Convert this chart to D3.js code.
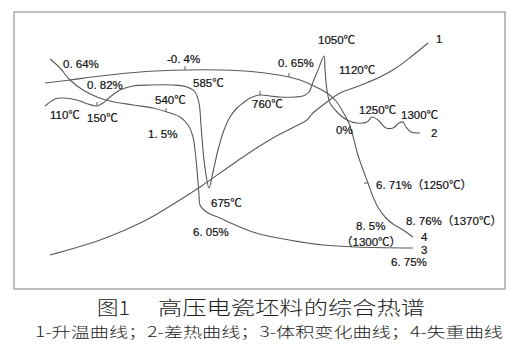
<!DOCTYPE html>
<html><head><meta charset="utf-8">
<script src="https://cdn.jsdelivr.net/npm/d3@7/dist/d3.min.js"></script>
<style>body{margin:0;background:#fff;}svg{display:block;}</style>
</head><body>
<svg id="c" width="512" height="355"></svg>
<script>
// Data in chart units: x = 0..491 across the frame, y = 0..277 bottom-to-top
const curve1 = [[36,34],[61,41],[86,49],[111,59],[136,71],[161,86],[186,102],[216,123],[238,138],[259,151],[286,165],[293,169],[299,176],[309,184],[326,196],[342,202],[366,212],[382,221],[398,233],[414,246]];
const curve2 = [[31,183],[41,190],[48,191],[58,190],[66,188],[74,185],[83,183],[89,186],[96,192],[106,199],[119,203],[136,204],[159,204],[173,202],[181,197],[185,186],[187,164],[189,139],[191,121],[195,101],[199,117],[204,139],[210,159],[216,172],[223,181],[229,186],[236,191],[246,194],[256,193],[266,192],[281,192],[289,193],[295,197],[299,207],[304,219],[310,233],[311,219],[313,199],[316,186],[323,177],[333,169],[343,166],[353,167],[358,172],[364,169],[372,161],[379,161],[385,166],[389,167],[392,162],[397,157],[406,156]];
const curve3 = [[36,230],[46,221],[56,209],[69,199],[83,192],[96,188],[119,184],[139,181],[153,177],[166,172],[174,164],[179,152],[181,139],[183,119],[185,94],[186,84],[190,79],[196,75],[206,71],[219,65],[242,56],[275,49],[309,44],[342,42],[399,41]];
const curve4 = [[31,206],[56,209],[86,213],[126,217],[171,219],[206,219],[242,217],[275,212],[286,209],[302,202],[313,196],[322,188],[329,177],[334,168],[337,160],[340,149],[343,137],[348,122],[354,106],[359,92],[365,80],[372,71],[379,65],[389,59],[399,52]];
const ticks = [[83,183,"up"],[152,177,"up"],[171,219,"up"],[275,212,"up"],[246,194,"up"],[354,106,"left"]];
const labels = [
  ["0. 64%",49,221],["-0. 4%",153,226],["0. 65%",264,222],["0. 82%",73,200],
  ["585℃",179,202],["540℃",141,185],["1050℃",304,245],["1120℃",325,215],
  ["760℃",238,181],["110℃",36,170],["150℃",73,167],["1. 5%",134,151],
  ["1250℃",345,175],["1300℃",387,170],["0%",322,155],
  ["675℃",197,82],["6. 05%",179,53],["6. 71%（1250℃）",362,100],
  ["8. 76%（1370℃）",392,64],["8. 5%",342,59],["（1300℃）",327,43],["6. 75%",377,23]
];
const curveIds = [["1",422,246],["2",417,152],["4",407,48],["3",407,35]];
const title1 = "图1";
const title2 = "高压电瓷坯料的综合热谱";
const subtitle = "1-升温曲线；2-差热曲线；3-体积变化曲线；4-失重曲线";

const svg = d3.select("#c");
const x = d3.scaleLinear().domain([0,491]).range([14,505]);
const y = d3.scaleLinear().domain([0,277]).range([289,12]);

svg.append("rect").attr("x",x(0)).attr("y",y(277)).attr("width",x(491)-x(0)).attr("height",y(0)-y(277))
  .attr("fill","none").attr("stroke","#aaa").attr("stroke-width",1.5);

const line = d3.line().x(d=>x(d[0])).y(d=>y(d[1])).curve(d3.curveCatmullRom.alpha(0.5));
[curve1,curve2,curve3,curve4].forEach(c=>{
  svg.append("path").attr("d",line(c)).attr("fill","none").attr("stroke","#5a5a5a").attr("stroke-width",1.1);
});
ticks.forEach(t=>{
  const px=x(t[0]), py=y(t[1]);
  svg.append("line").attr("x1",px).attr("y1",py)
    .attr("x2",t[2]==="up"?px:px-4).attr("y2",t[2]==="up"?py-4:py)
    .attr("stroke","#5a5a5a").attr("stroke-width",1);
});
const font = "'Liberation Sans','Noto Sans CJK SC',sans-serif";
labels.forEach(l=>{
  svg.append("text").attr("x",x(l[1])).attr("y",y(l[2])).text(l[0])
    .attr("font-family",font).attr("font-size",11.5).attr("fill","#111")
    .attr("stroke","#111").attr("stroke-width",0.2);
});
curveIds.forEach(l=>{
  svg.append("text").attr("x",x(l[1])).attr("y",y(l[2])).text(l[0])
    .attr("font-family",font).attr("font-size",11.5).attr("fill","#111")
    .attr("stroke","#111").attr("stroke-width",0.2);
});
svg.append("text").attr("x",97).attr("y",315).text(title1)
  .attr("font-family","'Noto Sans CJK SC',sans-serif").attr("font-size",19).attr("font-weight",300)
  .attr("textLength",33).attr("lengthAdjust","spacingAndGlyphs").attr("fill","#222");
svg.append("text").attr("x",158).attr("y",315).text(title2)
  .attr("font-family","'Noto Sans CJK SC',sans-serif").attr("font-size",19).attr("font-weight",300)
  .attr("textLength",267).attr("lengthAdjust","spacingAndGlyphs").attr("fill","#222");
svg.append("text").attr("x",35).attr("y",337).text(subtitle)
  .attr("font-family","'Noto Sans CJK SC',sans-serif").attr("font-size",14).attr("font-weight",300)
  .attr("textLength",468).attr("lengthAdjust","spacingAndGlyphs").attr("fill","#222");
</script>
</body></html>
